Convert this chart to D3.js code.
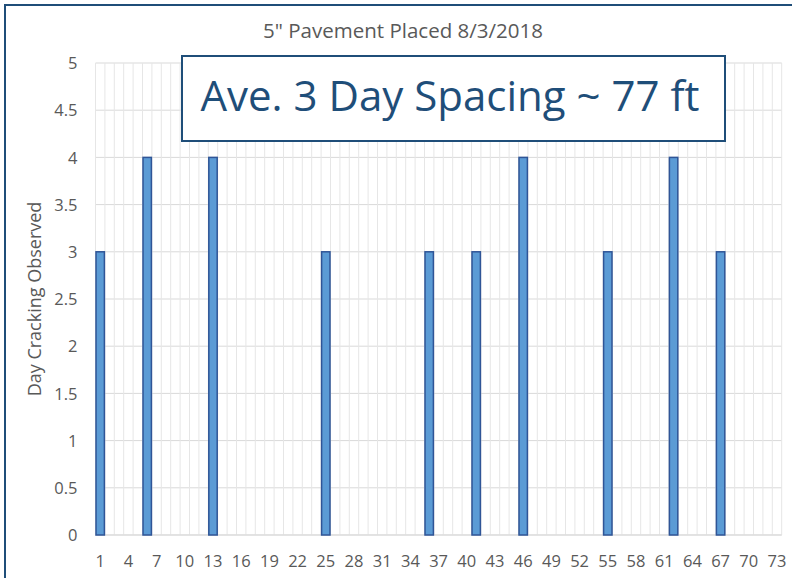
<!DOCTYPE html>
<html>
<head>
<meta charset="utf-8">
<script src="https://cdn.jsdelivr.net/npm/d3@7/dist/d3.min.js"></script>
<style>
  html, body { margin: 0; padding: 0; background: #fff; }
  svg { display: block; }
</style>
</head>
<body>
<svg id="chart" width="792" height="578"></svg>
<script>
// ---- Data ----
const categories = d3.range(1, 74);            // 1 .. 73
const barCategories = [1, 6, 13, 25, 36, 41, 46, 55, 62, 67];
const barValues     = [3, 4, 4, 3, 3, 3, 4, 3, 4, 3];
const yTicks = [0, 0.5, 1, 1.5, 2, 2.5, 3, 3.5, 4, 4.5, 5];
const xTickLabels = d3.range(1, 74, 3);       // 1,4,...,73
const titleText = "5\" Pavement Placed 8/3/2018";
const yTitleText = "Day Cracking Observed";
const annotationText = "Ave. 3 Day Spacing ~ 77 ft";

const values = categories.map(c => {
  const i = barCategories.indexOf(c);
  return i >= 0 ? barValues[i] : 0;
});

// ---- Layout ----
const svg = d3.select("#chart");
const W = 792, H = 578;
const plot = { left: 95.5, right: 781.7, top: 63, bottom: 535 };
const font = "'Open Sans', 'DejaVu Sans', sans-serif";
const gray = "#595959";
const navy = "#1F4E79";

svg.append("rect").attr("width", W).attr("height", H).attr("fill", "#fff");

const x = d3.scaleBand().domain(categories).range([plot.left, plot.right]).padding(0);
const y = d3.scaleLinear().domain([0, 5]).range([plot.bottom, plot.top]);

// gridlines horizontal
svg.append("g").selectAll("line").data(yTicks).join("line")
  .attr("x1", plot.left).attr("x2", plot.right)
  .attr("y1", d => y(d)).attr("y2", d => y(d))
  .attr("stroke", "#D9D9D9").attr("stroke-width", 1);

// gridlines vertical (category boundaries)
const bounds = categories.map(c => x(c)).concat([x(categories[categories.length - 1]) + x.bandwidth()]);
svg.append("g").selectAll("line").data(bounds).join("line")
  .attr("x1", d => d).attr("x2", d => d)
  .attr("y1", plot.top).attr("y2", plot.bottom)
  .attr("stroke", "#E6E6E6").attr("stroke-width", 1);

// bottom axis line
svg.append("line")
  .attr("x1", plot.left).attr("x2", plot.right)
  .attr("y1", y(0)).attr("y2", y(0))
  .attr("stroke", "#D9D9D9").attr("stroke-width", 1);

// bars
svg.append("g").selectAll("rect")
  .data(categories.map((c, i) => ({ c, v: values[i] })).filter(d => d.v > 0))
  .join("rect")
  .attr("x", d => x(d.c) + 0.5)
  .attr("width", x.bandwidth() - 1)
  .attr("y", d => y(d.v))
  .attr("height", d => y(0) - y(d.v))
  .attr("fill", "#5B9BD5")
  .attr("stroke", "#2F5597")
  .attr("stroke-width", 1.5);

// y axis
const yAxis = d3.axisLeft(y).tickValues(yTicks).tickSize(0).tickPadding(0)
  .tickFormat(d => String(d));
const gy = svg.append("g").attr("transform", `translate(${plot.left - 18},0)`).call(yAxis);
gy.select(".domain").remove();
gy.selectAll("text").attr("fill", gray).style("font-family", font).style("font-size", "16.5px")
  .attr("dy", "0.35em");

// x axis
const xAxis = d3.axisBottom(x).tickValues(xTickLabels).tickSize(0).tickPadding(0);
const gx = svg.append("g").attr("transform", `translate(0,${plot.bottom + 20})`).call(xAxis);
gx.select(".domain").remove();
gx.selectAll("text").attr("fill", gray).style("font-family", font).style("font-size", "16.5px");

// title
svg.append("text")
  .attr("x", 403).attr("y", 38)
  .attr("text-anchor", "middle")
  .attr("fill", gray)
  .style("font-family", font).style("font-size", "20.5px")
  .text(titleText);

// y title
svg.append("text")
  .attr("transform", `translate(41,${(plot.top + plot.bottom) / 2}) rotate(-90)`)
  .attr("text-anchor", "middle")
  .attr("fill", gray)
  .style("font-family", font).style("font-size", "18px")
  .text(yTitleText);

// annotation box
svg.append("rect")
  .attr("x", 182).attr("y", 56).attr("width", 543).attr("height", 85)
  .attr("fill", "#fff").attr("stroke", navy).attr("stroke-width", 2);
svg.append("text")
  .attr("x", 450).attr("y", 111)
  .attr("text-anchor", "middle")
  .attr("fill", navy)
  .style("font-family", font).style("font-size", "42px")
  .text(annotationText);

// outer border (top & left visible; extends beyond frame)
svg.append("rect")
  .attr("x", 5).attr("y", 5).attr("width", 800).attr("height", 600)
  .attr("fill", "none").attr("stroke", navy).attr("stroke-width", 2);
</script>
</body>
</html>
